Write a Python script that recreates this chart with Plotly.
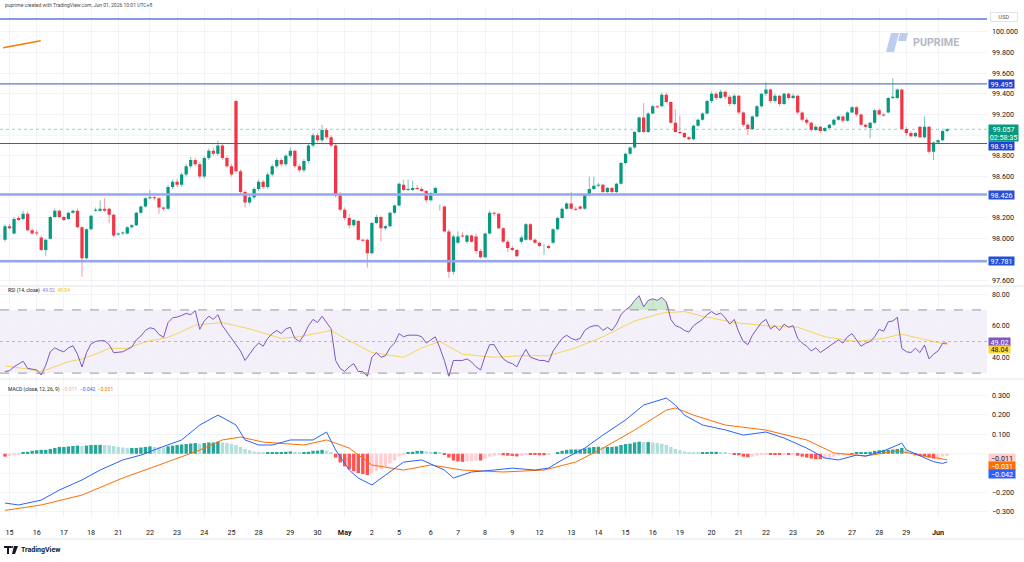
import plotly.graph_objects as go

# ---------------- data (4h candles, index 0 = first candle) ----------------
opens = [
97.99, 98.12, 98.05, 98.20, 98.19, 98.24, 98.08, 98.06, 98.01, 97.89,
98.00, 98.21, 98.27, 98.21, 98.19, 98.25, 98.27, 98.11, 97.81, 98.09,
98.27, 98.27, 98.29, 98.29, 98.23, 98.04, 98.05, 98.05, 98.11, 98.13,
98.25, 98.31, 98.39, 98.40, 98.39, 98.30, 98.29, 98.50, 98.55, 98.52,
98.62, 98.70, 98.76, 98.72, 98.60, 98.78, 98.85, 98.82, 98.90, 98.78,
98.70, 99.33, 98.65, 98.45, 98.35, 98.40, 98.48, 98.55, 98.50, 98.62,
98.70, 98.76, 98.72, 98.80, 98.85, 98.70, 98.66, 98.75, 98.90, 99.00,
98.95, 99.05, 98.98, 98.90, 98.42, 98.28, 98.20, 98.13, 98.17, 97.99,
97.99, 97.86, 98.15, 98.21, 98.10, 98.12, 98.25, 98.32, 98.52, 98.47,
98.47, 98.49, 98.48, 98.46, 98.37, 98.44, 98.31, 98.31, 98.07, 97.68,
97.96, 98.03, 97.97, 98.03, 98.02, 97.88, 97.82, 98.05, 98.25, 98.24,
98.10, 97.97, 97.91, 97.89, 97.97, 97.99, 98.14, 97.99, 97.96, 97.93,
97.93, 97.96, 98.09, 98.20, 98.29, 98.34, 98.29, 98.31, 98.29, 98.42,
98.48, 98.51, 98.52, 98.45, 98.49, 98.45, 98.53, 98.73, 98.82, 98.88,
99.03, 99.17, 99.03, 99.21, 99.28, 99.28, 99.39, 99.32, 99.12, 99.03,
99.02, 98.98, 98.96, 99.09, 99.15, 99.21, 99.33, 99.40, 99.36, 99.42,
99.37, 99.30, 99.38, 99.22, 99.10, 99.06, 99.18, 99.28, 99.40, 99.44,
99.33, 99.38, 99.30, 99.40, 99.36, 99.38, 99.22, 99.15, 99.12, 99.05,
99.08, 99.04, 99.07, 99.10, 99.15, 99.18, 99.14, 99.22, 99.27, 99.20,
99.10, 99.07, 99.12, 99.24, 99.20, 99.22, 99.36, 99.36, 99.44, 99.06,
99.02, 98.99, 99.08, 98.98, 99.08, 98.84, 98.93, 98.95, 99.04]
highs = [
98.14, 98.14, 98.21, 98.22, 98.27, 98.26, 98.10, 98.08, 98.03, 98.00,
98.22, 98.29, 98.28, 98.22, 98.26, 98.28, 98.29, 98.12, 98.10, 98.23,
98.30, 98.37, 98.39, 98.30, 98.24, 98.06, 98.07, 98.12, 98.14, 98.26,
98.32, 98.40, 98.47, 98.41, 98.40, 98.31, 98.52, 98.57, 98.58, 98.64,
98.72, 98.79, 98.78, 98.74, 98.80, 98.87, 98.88, 98.95, 98.92, 98.80,
98.72, 99.34, 98.67, 98.47, 98.42, 98.50, 98.57, 98.57, 98.64, 98.72,
98.78, 98.78, 98.82, 98.88, 98.86, 98.72, 98.77, 98.92, 99.02, 99.02,
99.10, 99.07, 99.00, 98.92, 98.45, 98.30, 98.24, 98.19, 98.18, 98.00,
98.00, 98.16, 98.23, 98.22, 98.13, 98.26, 98.33, 98.54, 98.57, 98.57,
98.56, 98.52, 98.50, 98.47, 98.45, 98.50, 98.33, 98.32, 98.09, 98.04,
98.07, 98.06, 98.04, 98.04, 98.05, 97.90, 98.06, 98.27, 98.26, 98.25,
98.11, 97.99, 97.93, 97.90, 98.03, 98.15, 98.15, 98.00, 97.97, 97.95,
97.94, 98.10, 98.21, 98.30, 98.35, 98.45, 98.31, 98.32, 98.43, 98.60,
98.60, 98.54, 98.53, 98.50, 98.50, 98.54, 98.74, 98.83, 98.89, 99.04,
99.18, 99.31, 99.22, 99.29, 99.29, 99.41, 99.41, 99.33, 99.25, 99.19,
99.03, 98.99, 99.10, 99.16, 99.22, 99.34, 99.42, 99.42, 99.44, 99.43,
99.39, 99.40, 99.39, 99.23, 99.12, 99.19, 99.29, 99.41, 99.51, 99.45,
99.40, 99.39, 99.41, 99.41, 99.40, 99.39, 99.23, 99.17, 99.13, 99.10,
99.09, 99.08, 99.11, 99.16, 99.19, 99.19, 99.23, 99.28, 99.28, 99.21,
99.11, 99.13, 99.25, 99.26, 99.21, 99.37, 99.55, 99.45, 99.45, 99.08,
99.04, 99.03, 99.09, 99.18, 99.09, 98.94, 98.96, 99.05, 99.07]
lows = [
97.97, 98.09, 98.04, 98.17, 98.18, 98.07, 98.04, 98.03, 97.88, 97.83,
97.99, 98.20, 98.20, 98.17, 98.18, 98.24, 98.10, 97.63, 97.80, 98.08,
98.26, 98.26, 98.26, 98.15, 98.01, 98.03, 98.04, 98.04, 98.10, 98.12,
98.24, 98.30, 98.38, 98.37, 98.24, 98.27, 98.28, 98.48, 98.50, 98.50,
98.60, 98.68, 98.70, 98.58, 98.58, 98.76, 98.80, 98.80, 98.76, 98.68,
98.60, 98.63, 98.43, 98.30, 98.33, 98.38, 98.46, 98.48, 98.48, 98.60,
98.68, 98.70, 98.70, 98.78, 98.68, 98.64, 98.64, 98.73, 98.88, 98.93,
98.93, 98.96, 98.88, 98.40, 98.26, 98.18, 98.10, 98.11, 97.98, 97.97,
97.72, 97.85, 98.14, 97.97, 98.08, 98.11, 98.24, 98.31, 98.46, 98.46,
98.46, 98.47, 98.45, 98.35, 98.36, 98.43, 98.27, 98.06, 97.62, 97.65,
97.95, 98.01, 97.95, 97.96, 97.85, 97.81, 97.81, 98.04, 98.22, 98.09,
97.96, 97.87, 97.88, 97.82, 97.95, 97.98, 97.98, 97.95, 97.92, 97.84,
97.90, 97.95, 98.08, 98.19, 98.28, 98.28, 98.27, 98.28, 98.28, 98.41,
98.47, 98.50, 98.44, 98.44, 98.44, 98.44, 98.52, 98.72, 98.81, 98.87,
99.02, 99.02, 99.02, 99.20, 99.26, 99.27, 99.31, 99.11, 99.02, 99.01,
98.97, 98.95, 98.95, 99.08, 99.14, 99.20, 99.31, 99.34, 99.35, 99.35,
99.28, 99.29, 99.20, 99.08, 99.00, 99.05, 99.17, 99.27, 99.38, 99.31,
99.31, 99.28, 99.29, 99.34, 99.35, 99.20, 99.13, 99.10, 99.03, 99.04,
99.02, 99.03, 99.06, 99.09, 99.14, 99.12, 99.13, 99.21, 99.18, 99.09,
99.07, 98.97, 99.11, 99.19, 99.18, 99.21, 99.35, 99.35, 99.05, 98.99,
98.98, 98.98, 98.97, 98.97, 98.82, 98.76, 98.92, 98.94, 99.03]
closes = [
98.12, 98.10, 98.19, 98.18, 98.24, 98.08, 98.05, 98.05, 97.89, 97.99,
98.21, 98.27, 98.21, 98.18, 98.25, 98.27, 98.11, 97.81, 98.09, 98.22,
98.28, 98.29, 98.27, 98.23, 98.03, 98.05, 98.06, 98.11, 98.13, 98.25,
98.31, 98.39, 98.40, 98.39, 98.30, 98.29, 98.50, 98.55, 98.52, 98.62,
98.70, 98.76, 98.72, 98.60, 98.78, 98.85, 98.82, 98.90, 98.78, 98.70,
98.62, 98.65, 98.45, 98.35, 98.40, 98.48, 98.55, 98.50, 98.62, 98.70,
98.76, 98.72, 98.80, 98.85, 98.70, 98.66, 98.75, 98.90, 99.00, 98.95,
99.05, 98.98, 98.90, 98.42, 98.28, 98.20, 98.13, 98.18, 97.99, 97.98,
97.86, 98.15, 98.21, 98.10, 98.12, 98.25, 98.32, 98.53, 98.47, 98.48,
98.49, 98.48, 98.46, 98.37, 98.44, 98.49, 98.31, 98.07, 97.68, 98.02,
98.02, 98.02, 98.03, 97.97, 97.88, 97.82, 98.05, 98.25, 98.24, 98.10,
97.97, 97.91, 97.89, 97.83, 98.01, 98.14, 97.99, 97.96, 97.93, 97.93,
97.91, 98.09, 98.20, 98.29, 98.34, 98.29, 98.28, 98.29, 98.42, 98.48,
98.51, 98.52, 98.45, 98.49, 98.45, 98.53, 98.73, 98.82, 98.88, 99.03,
99.17, 99.03, 99.21, 99.28, 99.27, 99.39, 99.32, 99.12, 99.03, 99.02,
98.98, 98.96, 99.09, 99.15, 99.21, 99.33, 99.40, 99.36, 99.42, 99.37,
99.30, 99.38, 99.22, 99.10, 99.06, 99.18, 99.28, 99.40, 99.44, 99.33,
99.38, 99.30, 99.40, 99.36, 99.38, 99.22, 99.15, 99.12, 99.05, 99.08,
99.04, 99.07, 99.10, 99.15, 99.18, 99.14, 99.22, 99.27, 99.20, 99.10,
99.08, 99.12, 99.24, 99.20, 99.19, 99.36, 99.37, 99.44, 99.06, 99.02,
98.99, 99.02, 98.98, 99.08, 98.84, 98.93, 98.95, 99.04, 99.057]

rsi = [
31, 31.5, 34, 36, 37.5, 33, 32.5, 32, 28.8, 35,
43.5, 46, 44.5, 43.5, 46, 47.3, 42, 33.9, 43, 48.5,
50, 50.5, 50.5, 48, 42.9, 43, 43.5, 45, 46.5, 51,
53.5, 57, 58.7, 58, 54.5, 52.6, 62, 65, 65.5, 66.5,
67.8, 67, 69.5, 57.7, 63, 66, 64, 67, 60, 56,
52, 48, 44, 38, 42, 46, 49, 47, 52, 55,
57, 55, 58, 59, 52, 50, 54, 60, 64, 62,
66, 62, 58, 38, 33, 31, 34, 36, 31, 31,
28, 40, 43, 40, 41, 46, 49, 55, 53, 54,
54, 54, 53, 49, 51, 53, 46, 38, 28, 38,
38, 38, 39, 37, 34, 32, 41, 48, 48, 43,
39, 37, 36, 34, 40, 45, 40, 39, 38, 38,
37, 44, 48, 52, 54, 52, 51, 52, 57, 59,
60, 60, 57, 59, 57, 61, 67, 70, 72, 76,
79, 72, 76, 77, 76, 78, 75, 64, 60, 59,
57, 56, 60, 62, 64, 67, 69, 67, 68, 65,
61, 64, 56, 50, 48, 54, 58, 62, 64, 58,
60, 57, 61, 59, 60, 52, 49, 47, 44, 46,
43, 45, 47, 49, 51, 49, 53, 55, 51, 47,
48.9, 50, 53, 57.7, 56.5, 62.5, 63, 65.3, 45.7, 43.5,
43, 45.7, 43, 47.8, 39, 42, 44, 48.9, 49.02]

rsi_ma_idx = [0, 5, 8, 14, 17, 20, 23, 27, 30, 32, 36, 39, 42, 48, 54, 61, 65, 72, 75, 81, 88,
              92, 96, 101, 108, 114, 120, 126, 132, 139, 145, 150, 154, 161, 168, 175, 181,
              188, 194, 198, 201, 208]
rsi_ma = [34.5, 32.6, 30.9, 37.2, 38.9, 42, 45.7, 45.7, 48.8, 50.5, 52.6, 56.2, 60.4, 62, 58, 52,
          53, 57, 52, 43, 40, 46, 50, 42, 40, 41, 41, 46, 53, 63, 68, 69, 66, 62, 60, 59, 53,
          50, 52, 54.7, 52.6, 48.04]

macd_idx = [0, 3, 8, 12, 17, 21, 26, 30, 34, 39, 43, 47, 49, 51, 53, 56, 59, 63, 68, 71,
            73, 76, 78, 81, 84, 88, 92, 97, 99, 103, 108, 112, 117, 120, 123, 128, 132, 137, 141, 146,
            148, 150, 154, 159, 163, 168, 172, 177, 181, 184, 188, 190, 194, 198, 199, 201, 203, 205, 207, 208]
macd = [-0.254, -0.264, -0.239, -0.187, -0.135, -0.084, -0.032, -0.007, 0.029, 0.071,
        0.148, 0.199, 0.174, 0.148, 0.071, 0.045, 0.045, 0.071, 0.071, 0.112,
        0.019, -0.084, -0.125, -0.161, -0.11, -0.043, -0.032, -0.084, -0.125, -0.094,
        -0.084, -0.074, -0.084, -0.074, -0.032, 0.029, 0.096, 0.174, 0.251, 0.287,
        0.251, 0.199, 0.148, 0.123, 0.096, 0.112, 0.081, 0.029, -0.022, -0.032,
        -0.007, -0.012, 0.015, 0.054, 0.02, 0.0, -0.024, -0.041, -0.05, -0.042]
signal_idx = [0, 8, 17, 26, 34, 43, 48, 52, 57, 66, 71, 76, 81, 88, 94, 101, 110, 119, 126, 132,
              139, 146, 148, 152, 159, 168, 177, 183, 190, 197, 203, 208]
signal = [-0.292, -0.264, -0.213, -0.125, -0.058, 0.019, 0.071, 0.086, 0.06, 0.045,
          0.071, 0.029, -0.058, -0.084, -0.058, -0.084, -0.094, -0.084, -0.043, 0.029,
          0.122, 0.225, 0.236, 0.199, 0.148, 0.122, 0.071, 0.004, -0.012, 0.015, -0.012, -0.031]
hist = [
-0.015, -0.012, -0.008, -0.004,
0.005, 0.01, 0.015, 0.018, 0.02, 0.02, 0.025, 0.03,
0.035, 0.035, 0.038, 0.04, 0.042, 0.04, 0.042, 0.045, 0.045, 0.046, 0.045, 0.044, 0.04,
0.035, 0.032, 0.03, 0.03, 0.03, 0.032, 0.035, 0.038, 0.036, 0.033, 0.032,
0.038, 0.042, 0.045, 0.048, 0.05, 0.053, 0.055, 0.052, 0.055, 0.058, 0.058, 0.062, 0.058, 0.055, 0.05,
0.045, 0.035, 0.025, 0.018, 0.012, 0.008, 0.005,
0.005, 0.006, 0.008, 0.008, 0.01, 0.012, 0.01, 0.008, 0.008, 0.01, 0.015, 0.016, 0.02,
0.015, 0.008,
-0.02, -0.045, -0.065, -0.08, -0.09, -0.1, -0.105, -0.11, -0.1, -0.09, -0.08,
-0.065, -0.05, -0.035, -0.015, -0.005, 0.005, 0.01, 0.015, 0.015,
0.012, 0.01, 0.01, 0.008,
-0.005, -0.02, -0.035, -0.04, -0.042, -0.04, -0.038,
-0.035, -0.035, -0.025, -0.015, -0.01, -0.008, -0.008, -0.01, -0.012, -0.014, -0.01, -0.005, -0.005, -0.006, -0.008, -0.008,
-0.006, 0.0, 0.008, 0.015, 0.02, 0.022, 0.022, 0.022, 0.028, 0.032, 0.035, 0.036, 0.035,
0.035, 0.035, 0.038, 0.045, 0.05, 0.052, 0.058, 0.062, 0.06, 0.06, 0.058, 0.055, 0.052,
0.045, 0.035, 0.025, 0.018, 0.012, 0.008, 0.006,
0.005, 0.006, 0.008, 0.01, 0.01, 0.008, 0.005, 0.002, -0.002, -0.008, -0.015, -0.018,
-0.015, -0.01, -0.005, -0.003, -0.005, -0.006, -0.006, -0.005, -0.005, -0.004, -0.01, -0.015,
-0.02, -0.025, -0.028, -0.028, -0.025, -0.02, -0.015, -0.01, -0.008, -0.003,
0.003, 0.005, 0.005, 0.006, 0.01, 0.015, 0.018, 0.02, 0.02, 0.022, 0.025, 0.03,
0.02, 0.005, -0.008, -0.012, -0.014, -0.02, -0.025, -0.022, -0.015, -0.011]

date_labels = ["15", "16", "17", "18", "21", "22", "23", "24", "25", "28", "29", "30", "<b>May</b>",
               "2", "5", "6", "7", "8", "9", "12", "13", "14", "15", "16", "19", "20", "21", "22",
               "23", "26", "27", "28", "29", "<b>Jun</b>"]
date_idx = [1, 7, 13, 19, 25, 32, 38, 44, 50, 56, 63, 69, 75, 81, 87, 94, 100, 106, 112, 118,
            125, 131, 137, 143, 149, 156, 162, 168, 174, 180, 187, 193, 199, 206]

# axis ticks; the ones listed as "covered" sit behind the value boxes (grid only)
price_ticks = [97.6, 98.0, 98.2, 98.6, 98.8, 99.2, 99.4, 99.6, 99.8, 100.0]
price_ticks_covered = [97.8, 98.4, 99.0]
rsi_ticks = [40, 60, 80]
macd_ticks = [-0.3, -0.2, 0.1, 0.2, 0.3]
macd_ticks_covered = [-0.1, 0.0]

level_top = 100.123
levels_dark = [99.495, 98.919]
levels_light = [98.426, 97.781]
last_price = 99.057
countdown = "02:58:35"
trend_x = [-0.4, 7.9]
trend_y = [99.845, 99.913]
rsi_last, rsi_ma_last = 49.02, 48.04
hist_last, macd_last, signal_last = -0.011, -0.042, -0.031

# ---------------- layout geometry ----------------
W, H = 1024, 562
ML, MR, MT, MB = 0, 37, 9, 45
PW, PH = W - ML - MR, H - MT - MB
BOT = H - MB


def fx(p):
    return (p - ML) / PW


def fy(p):
    return (BOT - p) / PH


UP, DOWN = "#089981", "#f23645"
FONT = "Roboto"
TXT = "#131722"
GRID = "#f2f3f6"
AXF = 7.2

idx = list(range(len(closes)))

fig = go.Figure()

# wicks (lighter)
wx_up, wy_up, wx_dn, wy_dn = [], [], [], []
for i in idx:
    if closes[i] >= opens[i]:
        wx_up += [i, i, None]
        wy_up += [lows[i], highs[i], None]
    else:
        wx_dn += [i, i, None]
        wy_dn += [lows[i], highs[i], None]
fig.add_trace(go.Scatter(x=wx_up, y=wy_up, mode="lines", line=dict(color="rgba(8,153,129,0.55)", width=1),
                         xaxis="x", yaxis="y", hoverinfo="skip"))
fig.add_trace(go.Scatter(x=wx_dn, y=wy_dn, mode="lines", line=dict(color="rgba(242,54,69,0.5)", width=1),
                         xaxis="x", yaxis="y", hoverinfo="skip"))
fig.add_trace(go.Candlestick(
    x=idx, open=opens, high=highs, low=lows, close=closes,
    increasing=dict(fillcolor=UP, line=dict(color=UP, width=0)),
    decreasing=dict(fillcolor=DOWN, line=dict(color=DOWN, width=0)),
    whiskerwidth=0, xaxis="x", yaxis="y", hoverinfo="skip"))

# orange drawn trend line
fig.add_trace(go.Scatter(x=trend_x, y=trend_y, mode="lines", line=dict(color="#f57c00", width=1.5),
                         xaxis="x", yaxis="y", hoverinfo="skip"))

# RSI
fig.add_trace(go.Scatter(x=idx, y=[70] * len(idx), mode="lines", line=dict(width=0),
                         xaxis="x", yaxis="y2", hoverinfo="skip"))
fig.add_trace(go.Scatter(x=idx, y=[max(v, 70) for v in rsi], mode="lines", line=dict(width=0),
                         fill="tonexty", fillcolor="rgba(76,175,80,0.28)", xaxis="x", yaxis="y2",
                         hoverinfo="skip"))
fig.add_trace(go.Scatter(x=idx, y=[30] * len(idx), mode="lines", line=dict(width=0),
                         xaxis="x", yaxis="y2", hoverinfo="skip"))
fig.add_trace(go.Scatter(x=idx, y=[min(v, 30) for v in rsi], mode="lines", line=dict(width=0),
                         fill="tonexty", fillcolor="rgba(242,54,69,0.22)", xaxis="x", yaxis="y2",
                         hoverinfo="skip"))
fig.add_trace(go.Scatter(x=rsi_ma_idx, y=rsi_ma, mode="lines", line=dict(color="#f7d45a", width=1),
                         xaxis="x", yaxis="y2", hoverinfo="skip"))
fig.add_trace(go.Scatter(x=idx, y=rsi, mode="lines", line=dict(color="#7e57c2", width=1),
                         xaxis="x", yaxis="y2", hoverinfo="skip"))

# MACD
hcol = []
for i, v in enumerate(hist):
    prev = hist[i - 1] if i > 0 else v
    if v >= 0:
        hcol.append("#26a69a" if v >= prev else "#b2dfdb")
    else:
        hcol.append("#ffcdd2" if v > prev else "#ff5252")
fig.add_trace(go.Bar(x=list(range(len(hist))), y=hist, marker=dict(color=hcol, line=dict(width=0)),
                     width=0.75, xaxis="x", yaxis="y3", hoverinfo="skip"))
fig.add_trace(go.Scatter(x=signal_idx, y=signal, mode="lines", line=dict(color="#ff6d00", width=1),
                         xaxis="x", yaxis="y3", hoverinfo="skip"))
fig.add_trace(go.Scatter(x=macd_idx, y=macd, mode="lines", line=dict(color="#2962ff", width=1),
                         xaxis="x", yaxis="y3", hoverinfo="skip"))

shapes = []
for t in price_ticks_covered:
    shapes.append(dict(type="line", xref="paper", x0=0, x1=1, yref="y", y0=t, y1=t,
                       line=dict(color=GRID, width=1), layer="below"))
for t in macd_ticks_covered:
    shapes.append(dict(type="line", xref="paper", x0=0, x1=1, yref="y3", y0=t, y1=t,
                       line=dict(color=GRID, width=1), layer="below"))
shapes.append(dict(type="line", xref="paper", x0=0, x1=1, yref="y", y0=level_top, y1=level_top,
                   line=dict(color="#5d78d9", width=1.5)))
for lv in levels_dark:
    shapes.append(dict(type="line", xref="paper", x0=0, x1=1, yref="y", y0=lv, y1=lv,
                       line=dict(color="#3c55c8", width=1)))
for lv in levels_light:
    shapes.append(dict(type="line", xref="paper", x0=0, x1=1, yref="y", y0=lv, y1=lv,
                       line=dict(color="#95a6ec", width=2.5)))
shapes.append(dict(type="line", xref="paper", x0=0, x1=1, yref="y", y0=last_price, y1=last_price,
                   line=dict(color="rgba(8,153,129,0.45)", width=1, dash="dot")))
shapes.append(dict(type="rect", xref="paper", x0=0, x1=1, yref="y2", y0=30, y1=70,
                   fillcolor="rgba(126,87,194,0.09)", line=dict(width=0), layer="below"))
for lv, dsh, col in [(70, "dash", "#9598a1"), (30, "dash", "#9598a1"), (50, "dot", "rgba(149,152,161,0.6)")]:
    shapes.append(dict(type="line", xref="paper", x0=0, x1=1, yref="y2", y0=lv, y1=lv,
                       line=dict(color=col, width=1, dash=dsh)))
for yp in [286, 379]:
    shapes.append(dict(type="line", xref="paper", x0=0, x1=1 + MR / PW, yref="paper", y0=fy(yp), y1=fy(yp),
                       line=dict(color="#e0e3eb", width=1)))
shapes.append(dict(type="line", xref="paper", x0=0, x1=1 + MR / PW, yref="paper", y0=fy(539), y1=fy(539),
                   line=dict(color="#e0e3eb", width=1)))


def pth(pts):
    return "M " + " L ".join(f"{fx(a)},{fy(b)}" for a, b in pts) + " Z"


# PUPRIME watermark logo
shapes.append(dict(type="path", xref="paper", yref="paper",
                   path=pth([(891, 33), (899, 33), (894, 52), (886, 52)]),
                   fillcolor="#bccdf0", line=dict(width=0)))
shapes.append(dict(type="path", xref="paper", yref="paper",
                   path=pth([(900, 33), (908, 33), (906, 41), (898, 41)]),
                   fillcolor="#bccdf0", line=dict(width=0)))
# TradingView logo glyph
shapes.append(dict(type="path", xref="paper", yref="paper",
                   path=pth([(4, 546), (11, 546), (11, 548), (9, 548), (9, 554), (7, 554), (7, 548), (4, 548)]),
                   fillcolor=TXT, line=dict(width=0)))
shapes.append(dict(type="path", xref="paper", yref="paper",
                   path=pth([(14, 546), (18, 546), (15, 554), (12, 554)]),
                   fillcolor=TXT, line=dict(width=0)))
shapes.append(dict(type="circle", xref="paper", yref="paper", x0=fx(11), x1=fx(13.2), y0=fy(546), y1=fy(548.2),
                   fillcolor=TXT, line=dict(width=0)))

ann = []


def box(y, yref, text, bg, fg, width, yshift=0, fsize=AXF, h=8):
    ann.append(dict(xref="paper", x=fx(988), xanchor="left", yref=yref, y=y, yanchor="middle",
                    text=text, showarrow=False, bgcolor=bg, font=dict(color=fg, size=fsize, family=FONT),
                    borderpad=0, width=width, height=h, align="center", valign="middle", yshift=yshift))


box(levels_dark[0], "y", f"{levels_dark[0]:.3f}", "#2142cf", "white", 25)
box(last_price, "y", f"{last_price:.3f}", UP, "white", 29, yshift=0)
box(last_price, "y", countdown, UP, "white", 29, yshift=-8)
box(levels_dark[1], "y", f"{levels_dark[1]:.3f}", "#2142cf", "white", 25, yshift=-2)
for lv in levels_light:
    box(lv, "y", f"{lv:.3f}", "#2450d6", "white", 25)
box(rsi_last, "y2", f"{rsi_last:.2f}", "#7e57c2", "white", 21, yshift=1)
box(rsi_ma_last, "y2", f"{rsi_ma_last:.2f}", "#fdd835", TXT, 21, yshift=-5, fsize=7, h=7)
box(hist_last, "y3", f"\u2212{abs(hist_last):.3f}", "#ffcdd2", TXT, 26, yshift=-2)
box(signal_last, "y3", f"\u2212{abs(signal_last):.3f}", "#ff6d00", "white", 26, yshift=-6)
box(macd_last, "y3", f"\u2212{abs(macd_last):.3f}", "#2962ff", "white", 26, yshift=-12)

ann.append(dict(xref="paper", yref="paper", x=fx(990), y=fy(17.5), xanchor="left", yanchor="middle",
                text="USD", showarrow=False, font=dict(size=5.5, color="#555", family=FONT),
                bgcolor="white", bordercolor="#e0e3eb", borderwidth=1, borderpad=1, width=24))
ann.append(dict(xref="paper", yref="paper", x=fx(3), y=fy(5), xanchor="left", yanchor="middle",
                text="puprime created with TradingView.com, Jun 01, 2026 10:01 UTC+8", showarrow=False,
                font=dict(size=5, color="#4a4a4a", family=FONT)))
ann.append(dict(xref="paper", yref="paper", x=fx(6), y=fy(290), xanchor="left", yanchor="middle",
                text=f"RSI (14, close)  <span style='color:#9575cd'>{rsi_last:.2f}</span>  "
                     f"<span style='color:#f0c020'>{rsi_ma_last:.2f}</span>",
                showarrow=False, font=dict(size=5, color=TXT, family=FONT)))
ann.append(dict(xref="paper", yref="paper", x=fx(6), y=fy(389), xanchor="left", yanchor="middle",
                text=f"MACD (close, 12, 26, 9)  <span style='color:#f7a8b0'>\u2212{abs(hist_last):.3f}</span>  "
                     f"<span style='color:#2962ff'>\u2212{abs(macd_last):.3f}</span>  "
                     f"<span style='color:#ff6d00'>\u2212{abs(signal_last):.3f}</span>",
                showarrow=False, font=dict(size=5, color=TXT, family=FONT)))
ann.append(dict(xref="paper", yref="paper", x=fx(911), y=fy(43), xanchor="left", yanchor="middle",
                text="<b>PUPRIME</b>", showarrow=False, font=dict(size=10.7, color="#b4b8c2", family=FONT)))
ann.append(dict(xref="paper", yref="paper", x=fx(19), y=fy(550), xanchor="left", yanchor="middle",
                text="<b>TradingView</b>", showarrow=False, font=dict(size=7, color=TXT, family=FONT)))

axis_common = dict(showline=False, zeroline=False, ticks="", gridcolor=GRID, gridwidth=1,
                   tickfont=dict(size=AXF, color=TXT, family=FONT), fixedrange=True)

fig.update_layout(
    width=W, height=H, margin=dict(l=ML, r=MR, t=MT, b=MB),
    paper_bgcolor="white", plot_bgcolor="white", showlegend=False, hovermode=False,
    boxgap=0.28, boxgroupgap=0,
    xaxis=dict(range=[-1.1, 216.8], anchor="y3", tickvals=date_idx, ticktext=date_labels,
               showgrid=True, rangeslider=dict(visible=False), ticklabelstandoff=10, **axis_common),
    yaxis=dict(domain=[fy(285), fy(9)], range=[97.552, 100.219], side="right", anchor="x",
               tickvals=price_ticks, tickformat=".3f", ticklabelstandoff=4, **axis_common),
    yaxis2=dict(domain=[fy(378), fy(287)], range=[26.9, 84.5], side="right", anchor="x",
                tickvals=rsi_ticks, tickformat=".2f", ticklabelstandoff=4,
                **{**axis_common, "tickfont": dict(size=7, color=TXT, family=FONT)}),
    yaxis3=dict(domain=[fy(517), fy(380)], range=[-0.326, 0.380], side="right", anchor="x",
                tickvals=macd_ticks, tickformat=".3f", ticklabelstandoff=4, **axis_common),
    shapes=shapes, annotations=ann, bargap=0.2,
)

fig.write_html("out.html")
